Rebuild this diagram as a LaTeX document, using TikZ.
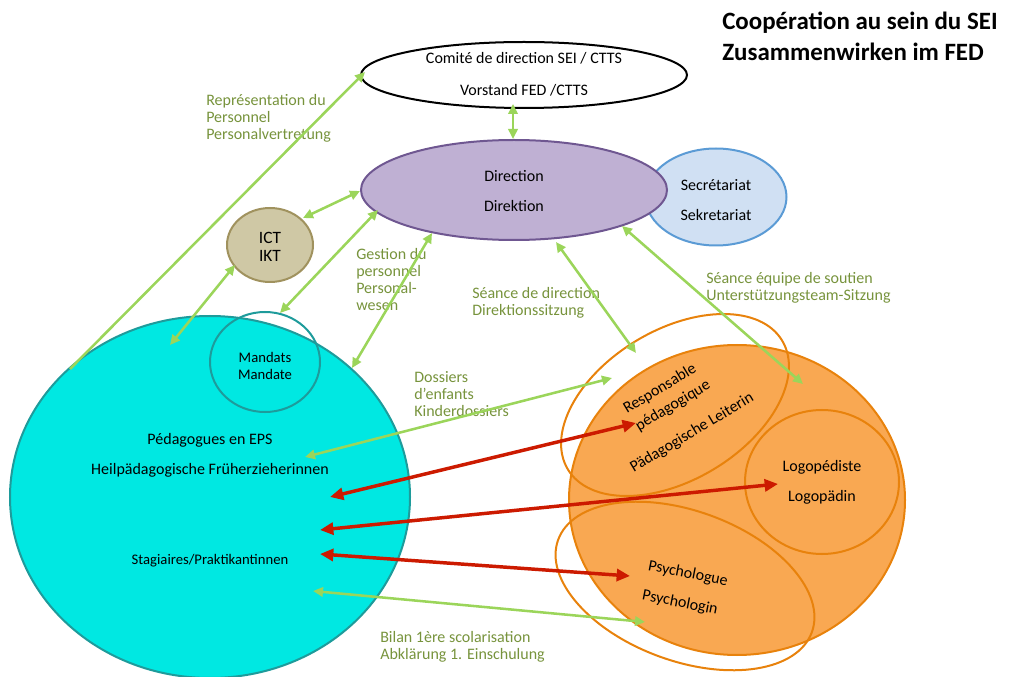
\documentclass[tikz,border=0pt]{standalone}
\usepackage{fontspec}
\setmainfont{Carlito}
\usetikzlibrary{shapes.geometric,arrows.meta}
\definecolor{cyanfill}{HTML}{00E8E2}
\definecolor{cyanline}{HTML}{1E9B9B}
\definecolor{orfill}{HTML}{F9A852}
\definecolor{orline}{HTML}{E8820C}
\definecolor{dirfill}{HTML}{BFB0D3}
\definecolor{dirline}{HTML}{6F5791}
\definecolor{secfill}{HTML}{D0E0F3}
\definecolor{secline}{HTML}{5B9BD5}
\definecolor{ictfill}{HTML}{CFC8A5}
\definecolor{ictline}{HTML}{A0925E}
\definecolor{arrgreen}{HTML}{9BD55A}
\definecolor{txtgreen}{HTML}{77933C}
\definecolor{arrred}{HTML}{CC1A00}
\tikzset{
  shp/.style={ellipse, inner sep=0pt, outer sep=0pt, line width=1.5pt},
  lbl/.style={inner sep=0pt, align=center},
  glbl/.style={inner sep=0pt, align=left, anchor=north west, text=txtgreen},
  garrow/.style={draw=arrgreen, line width=1.9pt, {Triangle[length=7.5pt,width=7pt]}-{Triangle[length=7.5pt,width=7pt]}},
  gline/.style={draw=arrgreen, line width=1.9pt, -{Triangle[length=7.5pt,width=7pt]}},
  rarrow/.style={draw=arrred, line width=2.6pt, {Triangle[length=10pt,width=9pt]}-{Triangle[length=10pt,width=9pt]}}
}
\begin{document}
\begin{tikzpicture}[x=0.75pt,y=-0.75pt, font=\fontsize{12}{12.75}\selectfont]
\useasboundingbox (0,0) rectangle (1018,677);

% shapes
\node[shp, draw=black, fill=white, minimum width=244.5pt, minimum height=49.5pt] (comite) at (524,75) {};
\node[shp, draw=secline, fill=secfill, minimum width=105.75pt, minimum height=72.75pt] (secr) at (716,197) {};
\node[shp, draw=dirline, fill=dirfill, minimum width=229.5pt, minimum height=75pt] (dir) at (514,190) {};
\node[shp, draw=ictline, fill=ictfill, minimum width=64.5pt, minimum height=55.5pt] (ict) at (270,245) {};
\node[shp, draw=cyanline, fill=cyanfill, minimum width=300pt, minimum height=271.5pt] (ped) at (210,497) {};
\node[shp, draw=cyanline, minimum width=82.5pt, minimum height=75pt] (mand) at (265,362) {};
\node[shp, draw=orline, fill=orfill, minimum width=252pt, minimum height=232.5pt] (team) at (737,500) {};
\node[shp, draw=orline, fill=orfill, minimum width=115.5pt, minimum height=108pt] (logo) at (822,482) {};
\node[shp, draw=orline, rotate=31, minimum width=187.5pt, minimum height=112.5pt] (resp) at (675,405) {};
\node[shp, draw=orline, rotate=-20, minimum width=202.5pt, minimum height=112.5pt] (psy) at (685,586) {};

% black texts
\node[lbl] (t1) at (524,58) {Comité de direction SEI / CTTS};
\node[lbl] (t2) at (524,90) {Vorstand FED /CTTS};
\node[lbl] (t3) at (514,176) {Direction};
\node[lbl] (t4) at (514,206) {Direktion};
\node[lbl] (t5) at (716,185) {Secrétariat};
\node[lbl] (t6) at (716,215) {Sekretariat};
\node[lbl, font=\fontsize{13}{14}\selectfont] (t7) at (270,238) {ICT};
\node[lbl, font=\fontsize{13}{14}\selectfont] (t8) at (270,256) {IKT};
\node[lbl, font=\fontsize{11}{12}\selectfont] (t9) at (265,357) {Mandats};
\node[lbl, font=\fontsize{11}{12}\selectfont] (t10) at (265,374) {Mandate};
\node[lbl] (t11) at (210,440) {Pédagogues en EPS};
\node[lbl] (t12) at (210,470) {Heilpädagogische Früherzieherinnen};
\node[lbl, font=\fontsize{11}{12}\selectfont] (t13) at (210,561) {Stagiaires/Praktikantinnen};
\node[lbl] (t14) at (822,467) {Logopédiste};
\node[lbl] (t15) at (822,497) {Logopädin};
\node[lbl, rotate=31] (t16) at (660,389) {Responsable};
\node[lbl, rotate=31] (t17) at (673,406) {pédagogique};
\node[lbl, rotate=31] (t18) at (692,433) {Pädagogische Leiterin};
\node[lbl, rotate=-11] (t19) at (688,574) {Psychologue};
\node[lbl, rotate=-11] (t20) at (680,603) {Psychologin};

% title
\node[inner sep=0pt, anchor=west, font=\fontsize{18.7}{22}\selectfont\bfseries] (title1) at (722,23) {Coopération au sein du SEI};
\node[inner sep=0pt, anchor=west, font=\fontsize{18.7}{22}\selectfont\bfseries] (title2) at (722,52) {Zusammenwirken im FED};

% green labels
\node[glbl] (g1) at (206,94) {Représentation du\\Personnel\\Personalvertretung};
\node[glbl] (g2) at (356,248) {Gestion du\\personnel\\Personal-\\wesen};
\node[glbl] (g3) at (472,287) {Séance de direction\\Direktionssitzung};
\node[glbl] (g4) at (706,272) {Séance équipe de soutien\\Unterstützungsteam-Sitzung};
\node[glbl] (g5) at (414,371) {Dossiers\\d’enfants\\Kinderdossiers};
\node[glbl] (g6) at (380,631) {Bilan 1ère scolarisation\\Abklärung 1. Einschulung};

% connector end points
\coordinate (pRep) at (70,369);
\coordinate (cRep) at (365,72);
\coordinate (cA) at (513,104);
\coordinate (dA) at (513,139);
\coordinate (iB) at (303,218);
\coordinate (dB) at (360,191);
\coordinate (pC) at (170,345);
\coordinate (iC) at (235,265);
\coordinate (mD) at (280,313);
\coordinate (dD) at (378,210);
\coordinate (pE) at (352,368);
\coordinate (dE) at (432,233);
\coordinate (dF) at (556,242);
\coordinate (rF) at (636,353);
\coordinate (dG) at (622,226);
\coordinate (tG) at (803,384);
\coordinate (pH) at (305,457);
\coordinate (rH) at (612,378);
\coordinate (pI) at (330,497);
\coordinate (rI) at (636,423);
\coordinate (pJ) at (320,530);
\coordinate (lJ) at (778,484);
\coordinate (pK) at (320,554);
\coordinate (sK) at (630,576);
\coordinate (pL) at (313,591);
\coordinate (sL) at (645,622);

% green connectors
\draw[gline] (pRep) -- (cRep);
\draw[garrow] (cA) -- (dA);
\draw[garrow] (iB) -- (dB);
\draw[garrow] (pC) -- (iC);
\draw[garrow] (mD) -- (dD);
\draw[garrow] (pE) -- (dE);
\draw[garrow] (dF) -- (rF);
\draw[garrow] (dG) -- (tG);
\draw[garrow] (pH) -- (rH);
\draw[garrow] (pL) -- (sL);

% red connectors
\draw[rarrow] (pI) -- (rI);
\draw[rarrow] (pJ) -- (lJ);
\draw[rarrow] (pK) -- (sK);
\end{tikzpicture}
\end{document}
